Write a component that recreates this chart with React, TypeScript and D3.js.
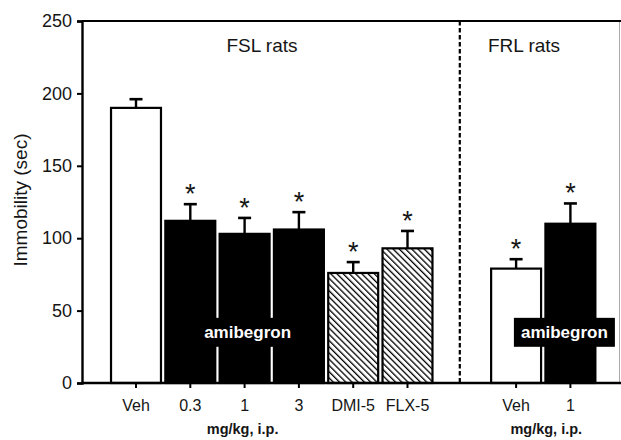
import React, { useEffect, useRef } from "react";
import * as d3 from "d3";

const slots = ["Veh", "0.3", "1", "3", "DMI-5", "FLX-5", "", "FRL-Veh", "FRL-1"];
const barKeys = ["Veh", "0.3", "1", "3", "DMI-5", "FLX-5", "FRL-Veh", "FRL-1"];
const tickLabels = ["Veh", "0.3", "1", "3", "DMI-5", "FLX-5", "Veh", "1"];
const means = [190, 112, 103, 106, 76, 93, 79, 110];
const errors = [6, 11.5, 11, 12, 7.5, 12, 6.5, 14];
const fills = ["white", "black", "black", "black", "hatch", "hatch", "white", "black"];
const starred = [false, true, true, true, true, true, true, true];
const yTicks = [0, 50, 100, 150, 200, 250];

const App = () => {
  const ref = useRef<SVGSVGElement>(null);

  useEffect(() => {
    const W = 621;
    const H = 440;
    const left = 82;
    const top = 21;
    const bottom = 383;
    const right = 620;

    const svg = d3.select(ref.current).attr("width", W).attr("height", H);
    svg.selectAll("*").remove();

    const defs = svg.append("defs");
    const hp = 4.4;
    const pat = defs
      .append("pattern")
      .attr("id", "hatch")
      .attr("patternUnits", "userSpaceOnUse")
      .attr("width", hp)
      .attr("height", hp)
      .attr("patternTransform", "rotate(-45)");
    pat.append("rect").attr("width", hp).attr("height", hp).attr("fill", "white");
    pat
      .append("line")
      .attr("x1", 0)
      .attr("y1", 0)
      .attr("x2", 0)
      .attr("y2", hp)
      .attr("stroke", "black")
      .attr("stroke-width", 2.6);

    const y = d3.scaleLinear().domain([0, 250]).range([bottom, top]);
    const x = d3.scalePoint().domain(slots).range([136, 570.4]);
    const bw = x.step() * 0.92;
    const xc = (i: number) => x(barKeys[i]) as number;

    const font = "Arial, 'Liberation Sans', Helvetica, sans-serif";
    const ink = "#151515";

    // frame
    svg.append("line").attr("x1", right - 0.5).attr("x2", right - 0.5).attr("y1", top).attr("y2", bottom)
      .attr("stroke", "#aaa").attr("stroke-width", 1);
    svg.append("line").attr("x1", left).attr("x2", W).attr("y1", top).attr("y2", top)
      .attr("stroke", "black").attr("stroke-width", 2.2);
    svg.append("line").attr("x1", x("") as number - 2).attr("x2", x("") as number - 2).attr("y1", top).attr("y2", bottom)
      .attr("stroke", "black").attr("stroke-width", 2.2).attr("stroke-dasharray", "4.5,2.5");

    // bars
    const g = svg.append("g");
    barKeys.forEach((k, i) => {
      const cx = xc(i);
      const fill = fills[i] === "hatch" ? "url(#hatch)" : fills[i];
      g.append("rect")
        .attr("x", cx - bw / 2)
        .attr("y", y(means[i]))
        .attr("width", bw)
        .attr("height", y(0) - y(means[i]))
        .attr("fill", fill)
        .attr("stroke", "black")
        .attr("stroke-width", 2.2);
      const et = y(means[i] + errors[i]);
      g.append("line").attr("x1", cx).attr("x2", cx).attr("y1", y(means[i])).attr("y2", et)
        .attr("stroke", "black").attr("stroke-width", 2.4);
      g.append("line").attr("x1", cx - 6.5).attr("x2", cx + 6.5).attr("y1", et).attr("y2", et)
        .attr("stroke", "black").attr("stroke-width", 2.6);
      if (starred[i]) {
        g.append("text")
          .attr("x", cx)
          .attr("y", et - 1)
          .attr("text-anchor", "middle")
          .attr("font-family", font)
          .attr("font-size", 27)
          .attr("fill", ink)
          .text("*");
      }
    });

    // amibegron labels
    const labels = [
      { cx: (x("1") as number) + 3, w: 96 },
      { cx: (x("FRL-1") as number) - 6, w: 101 },
    ];
    labels.forEach((l) => {
      svg.append("rect").attr("x", l.cx - l.w / 2).attr("y", y(45)).attr("width", l.w).attr("height", y(25) - y(45))
        .attr("fill", "black");
      svg.append("text").attr("x", l.cx).attr("y", y(31)).attr("text-anchor", "middle")
        .attr("font-family", font).attr("font-weight", "bold").attr("font-size", 17).attr("fill", "white")
        .text("amibegron");
    });

    // y axis
    const ya = svg.append("g").attr("transform", `translate(${left},0)`)
      .call(d3.axisLeft(y).tickValues(yTicks).tickSize(5).tickPadding(5));
    ya.select(".domain").attr("stroke-width", 2.4);
    ya.selectAll(".tick line").attr("stroke-width", 2);
    ya.selectAll("text").attr("font-family", font).attr("font-size", 18).attr("fill", ink);

    // x axis
    svg.append("line").attr("x1", left - 1).attr("x2", W).attr("y1", bottom).attr("y2", bottom)
      .attr("stroke", "black").attr("stroke-width", 2.4);
    barKeys.forEach((k, i) => {
      const cx = xc(i);
      svg.append("line").attr("x1", cx).attr("x2", cx).attr("y1", bottom).attr("y2", bottom + 5)
        .attr("stroke", "black").attr("stroke-width", 2);
      svg.append("text").attr("x", cx).attr("y", 411).attr("text-anchor", "middle")
        .attr("font-family", font).attr("font-size", 16).attr("fill", ink).text(tickLabels[i]);
    });

    // units
    [x("1") as number - 2, (x("FRL-Veh") as number + (x("FRL-1") as number)) / 2 + 3].forEach((cx) => {
      svg.append("text").attr("x", cx).attr("y", 434).attr("text-anchor", "middle")
        .attr("font-family", font).attr("font-weight", "bold").attr("font-size", 14.5).attr("fill", ink)
        .text("mg/kg, i.p.");
    });

    // group titles
    svg.append("text").attr("x", 262).attr("y", 52).attr("text-anchor", "middle")
      .attr("font-family", font).attr("font-size", 19).attr("fill", ink).text("FSL rats");
    svg.append("text").attr("x", 524).attr("y", 52).attr("text-anchor", "middle")
      .attr("font-family", font).attr("font-size", 19).attr("fill", ink).text("FRL rats");

    // y label
    svg.append("text").attr("transform", "translate(27,200) rotate(-90)").attr("text-anchor", "middle")
      .attr("font-family", font).attr("font-size", 19).attr("fill", ink).text("Immobility (sec)");
  });

  return (
    <div id="chartArea">
      <svg ref={ref} style={{ position: "absolute", left: 0, top: 0 }}></svg>
    </div>
  );
};

export default App;
